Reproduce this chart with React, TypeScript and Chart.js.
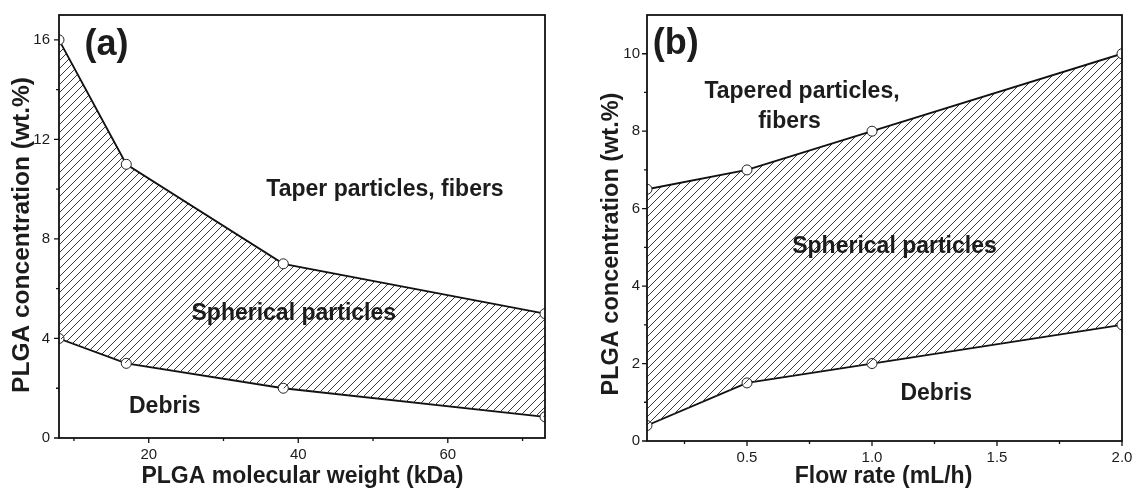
import React, { useEffect, useRef } from 'react';
import { Chart, registerables } from 'chart.js';

Chart.register(...registerables);

const FONT = '"Liberation Sans", Arial, Helvetica, sans-serif';

// ---------- Panel (a): PLGA molecular weight ----------
const mwValues = [8, 17, 38, 73];
const mwUpper = [16, 11, 7, 5];
const mwLower = [4, 3, 2, 0.85];
const mwXTicks = [10, 20, 30, 40, 50, 60, 70];
const mwXLabels = [20, 40, 60];
const mwYTicks = [0, 2, 4, 6, 8, 10, 12, 14, 16];
const mwYLabels = [0, 4, 8, 12, 16];

// ---------- Panel (b): flow rate ----------
const flowValues = [0.1, 0.5, 1.0, 2.0];
const flowUpper = [6.5, 7, 8, 10];
const flowLower = [0.4, 1.5, 2, 3];
const flowXTicks = [0.25, 0.5, 0.75, 1.0, 1.25, 1.5, 1.75, 2.0];
const flowXLabels = [0.5, 1.0, 1.5, 2.0];
const flowYTicks = [0, 1, 2, 3, 4, 5, 6, 7, 8, 9, 10];
const flowYLabels = [0, 2, 4, 6, 8, 10];

// Region labels (in data coordinates)
const notesA = [
  { text: '(a)', x: 14.35, y: 15.8, size: 36 },
  { text: 'Taper particles, fibers', x: 51.6, y: 10.0, size: 23 },
  { text: 'Spherical particles', x: 39.4, y: 5.0, size: 23 },
  { text: 'Debris', x: 22.15, y: 1.27, size: 23 },
];
const notesB = [
  { text: '(b)', x: 0.215, y: 10.25, size: 36 },
  { text: 'Tapered particles,', x: 0.72, y: 9.01, size: 23 },
  { text: 'fibers', x: 0.67, y: 8.24, size: 23 },
  { text: 'Spherical particles', x: 1.09, y: 5.03, size: 23 },
  { text: 'Debris', x: 1.257, y: 1.23, size: 23 },
];

function makeHatch(): CanvasPattern | string {
  const c = document.createElement('canvas');
  c.width = 8;
  c.height = 8;
  const g = c.getContext('2d');
  if (!g) return '#ccc';
  g.strokeStyle = '#3a3a3a';
  g.lineWidth = 1;
  g.beginPath();
  g.moveTo(0, 8);
  g.lineTo(8, 0);
  g.moveTo(-1, 1);
  g.lineTo(1, -1);
  g.moveTo(7, 9);
  g.lineTo(9, 7);
  g.stroke();
  return g.createPattern(c, 'repeat') || '#ccc';
}

const has = (arr: number[], v: number) => arr.some((a) => Math.abs(a - v) < 1e-6);

type Spec = {
  left: number;
  width: number;
  xs: number[];
  upper: number[];
  lower: number[];
  xMin: number;
  xMax: number;
  yMin: number;
  yMax: number;
  xTicks: number[];
  xLabels: number[];
  yTicks: number[];
  yLabels: number[];
  xDecimals: number;
  notes: { text: string; x: number; y: number; size: number }[];
  xTitle: string;
  yTitle: string;
  yTitleSize: number;
  yAxisW: number;
  xAxisH: number;
  padRight: number;
  yTitlePos: { x: number; y: number };
  xTitlePos: { x: number; y: number };
  yTickPad: number;
};

function Panel({ spec }: { spec: Spec }) {
  const ref = useRef<HTMLCanvasElement>(null);
  useEffect(() => {
    if (!ref.current) return;
    const hatch = makeHatch();
    const decor = {
      id: 'decor',
      afterDatasetsDraw(chart: any) {
        const { ctx, chartArea } = chart;
        const { left, right, top, bottom } = chartArea;
        const sx = chart.scales.x;
        const sy = chart.scales.y;
        ctx.save();
        ctx.strokeStyle = '#111';
        ctx.lineWidth = 1.8;
        ctx.strokeRect(left, top, right - left, bottom - top);
        ctx.lineWidth = 1.3;
        ctx.beginPath();
        for (const v of spec.xTicks) {
          const px = sx.getPixelForValue(v);
          const len = has(spec.xLabels, v) ? 5 : 3;
          ctx.moveTo(px, bottom);
          ctx.lineTo(px, bottom + len);
        }
        for (const v of spec.yTicks) {
          const py = sy.getPixelForValue(v);
          const len = has(spec.yLabels, v) ? 5 : 3;
          ctx.moveTo(left, py);
          ctx.lineTo(left - len, py);
        }
        ctx.stroke();
        ctx.restore();
      },
      afterDraw(chart: any) {
        const { ctx } = chart;
        const sx = chart.scales.x;
        const sy = chart.scales.y;
        ctx.save();
        ctx.fillStyle = '#1c1c1c';
        ctx.textAlign = 'center';
        ctx.textBaseline = 'middle';
        for (const n of spec.notes) {
          ctx.font = `bold ${n.size}px ${FONT}`;
          ctx.fillText(n.text, sx.getPixelForValue(n.x), sy.getPixelForValue(n.y));
        }
        ctx.font = `bold 23px ${FONT}`;
        ctx.fillText(spec.xTitle, spec.xTitlePos.x, spec.xTitlePos.y);
        ctx.font = `bold ${spec.yTitleSize}px ${FONT}`;
        ctx.translate(spec.yTitlePos.x, spec.yTitlePos.y);
        ctx.rotate(-Math.PI / 2);
        ctx.fillText(spec.yTitle, 0, 0);
        ctx.restore();
      },
    };

    const chart = new Chart(ref.current, {
      type: 'line',
      data: {
        datasets: [
          {
            data: spec.xs.map((x, i) => ({ x, y: spec.upper[i] })),
            borderColor: '#111',
            borderWidth: 1.8,
            pointRadius: 5,
            pointBackgroundColor: '#fff',
            pointBorderColor: '#222',
            pointBorderWidth: 1,
            fill: '+1',
            backgroundColor: hatch as any,
            tension: 0,
          },
          {
            data: spec.xs.map((x, i) => ({ x, y: spec.lower[i] })),
            borderColor: '#111',
            borderWidth: 1.8,
            pointRadius: 5,
            pointBackgroundColor: '#fff',
            pointBorderColor: '#222',
            pointBorderWidth: 1,
            fill: false,
            tension: 0,
          },
        ],
      },
      options: {
        animation: false,
        responsive: false,
        events: [],
        layout: { padding: { left: 0, top: 15, right: spec.padRight, bottom: 0 } },
        plugins: { legend: { display: false }, tooltip: { enabled: false } },
        scales: {
          x: {
            type: 'linear',
            min: spec.xMin,
            max: spec.xMax,
            grid: { display: false, drawTicks: false },
            border: { display: false },
            afterBuildTicks: (s: any) => {
              s.ticks = spec.xTicks.map((v) => ({ value: v }));
            },
            afterFit: (s: any) => {
              s.height = spec.xAxisH;
              s.paddingLeft = 0;
              s.paddingRight = 0;
            },
            ticks: {
              autoSkip: false,
              maxRotation: 0,
              padding: 8,
              color: '#1c1c1c',
              font: { family: FONT, size: 15 },
              callback: (v: any) => (has(spec.xLabels, Number(v)) ? Number(v).toFixed(spec.xDecimals) : ''),
            },
          },
          y: {
            type: 'linear',
            min: spec.yMin,
            max: spec.yMax,
            grid: { display: false, drawTicks: false },
            border: { display: false },
            afterBuildTicks: (s: any) => {
              s.ticks = spec.yTicks.map((v) => ({ value: v }));
            },
            afterFit: (s: any) => {
              s.width = spec.yAxisW;
              s.paddingTop = 0;
              s.paddingBottom = 0;
            },
            ticks: {
              autoSkip: false,
              padding: spec.yTickPad,
              color: '#1c1c1c',
              font: { family: FONT, size: 15 },
              callback: (v: any) => (has(spec.yLabels, Number(v)) ? String(v) : ''),
            },
          },
        },
      } as any,
      plugins: [decor],
    });
    return () => chart.destroy();
  }, [spec]);
  return (
    <canvas
      ref={ref}
      width={spec.width}
      height={490}
      style={{ position: 'absolute', left: spec.left, top: 0, width: spec.width, height: 490 }}
    />
  );
}

const specA: Spec = {
  left: 0,
  width: 560,
  xs: mwValues,
  upper: mwUpper,
  lower: mwLower,
  xMin: 8,
  xMax: 73,
  yMin: 0,
  yMax: 17,
  xTicks: mwXTicks,
  xLabels: mwXLabels,
  yTicks: mwYTicks,
  yLabels: mwYLabels,
  xDecimals: 0,
  notes: notesA,
  xTitle: 'PLGA molecular weight (kDa)',
  yTitle: 'PLGA concentration (wt.%)',
  yTitleSize: 24.5,
  yAxisW: 59,
  xAxisH: 52,
  padRight: 15,
  yTitlePos: { x: 22.5, y: 235 },
  xTitlePos: { x: 302.5, y: 477 },
  yTickPad: 9,
};

const specB: Spec = {
  left: 560,
  width: 576,
  xs: flowValues,
  upper: flowUpper,
  lower: flowLower,
  xMin: 0.1,
  xMax: 2.0,
  yMin: 0,
  yMax: 11,
  xTicks: flowXTicks,
  xLabels: flowXLabels,
  yTicks: flowYTicks,
  yLabels: flowYLabels,
  xDecimals: 1,
  notes: notesB,
  xTitle: 'Flow rate (mL/h)',
  yTitle: 'PLGA concentration (wt.%)',
  yTitleSize: 23.5,
  yAxisW: 87,
  xAxisH: 49,
  padRight: 14,
  yTitlePos: { x: 52, y: 244 },
  xTitlePos: { x: 323.5, y: 477 },
  yTickPad: 7,
};

export default function App() {
  return (
    <div style={{ position: 'fixed', left: 0, top: 0, width: 1136, height: 490, background: '#fff' }}>
      <Panel spec={specA} />
      <Panel spec={specB} />
    </div>
  );
}
